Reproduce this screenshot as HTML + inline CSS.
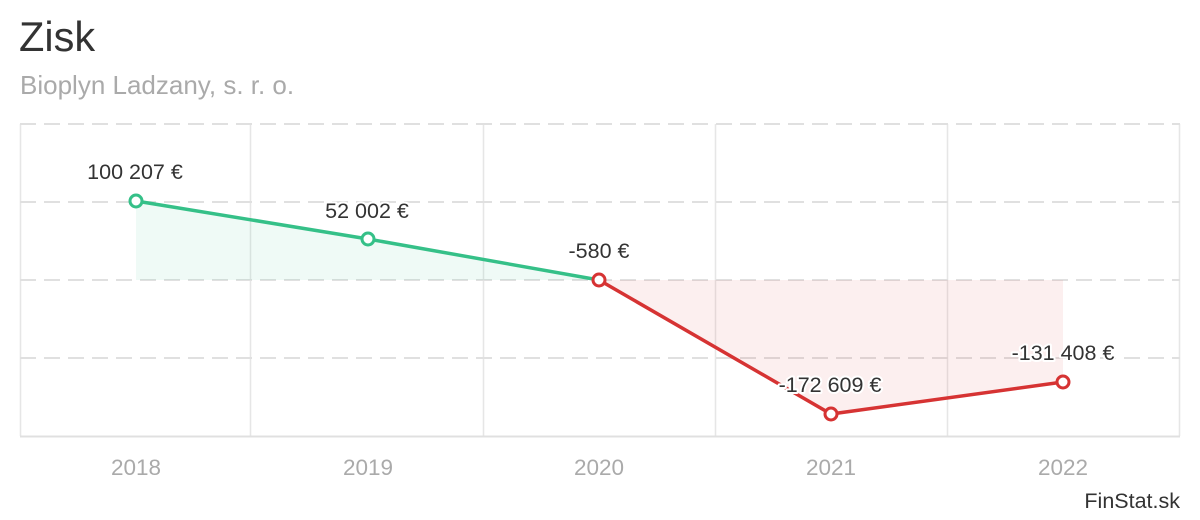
<!DOCTYPE html>
<html><head><meta charset="utf-8"><style>
html,body{margin:0;padding:0;background:#fff;}
svg{display:block;font-family:"Liberation Sans",sans-serif;}
</style></head><body>
<svg width="1200" height="520" viewBox="0 0 1200 520">
<text x="19" y="51" font-size="41.5" fill="#333">Zisk</text>
<text x="20" y="94" font-size="26" fill="#aaa">Bioplyn Ladzany, s. r. o.</text>
<g stroke="#e6e6e6" stroke-width="1.5">
<line x1="20.5" y1="124" x2="20.5" y2="436"/>
<line x1="250.5" y1="124" x2="250.5" y2="436"/>
<line x1="483.5" y1="124" x2="483.5" y2="436"/>
<line x1="715.5" y1="124" x2="715.5" y2="436"/>
<line x1="947.5" y1="124" x2="947.5" y2="436"/>
<line x1="1179.5" y1="124" x2="1179.5" y2="436"/>
</g>
<g stroke="#e0e0e0" stroke-width="2" stroke-dasharray="16,8">
<line x1="20" y1="124" x2="1180" y2="124"/>
<line x1="20" y1="202" x2="1180" y2="202"/>
<line x1="20" y1="280" x2="1180" y2="280"/>
<line x1="20" y1="358" x2="1180" y2="358"/>
</g>
<line x1="20" y1="436.5" x2="1180" y2="436.5" stroke="#e0e0e0" stroke-width="2"/>
<polygon points="136,201 368,239 599,280 136,280" fill="#35c088" fill-opacity="0.08"/>
<polygon points="599,280 831,414 1063,382 1063,280" fill="#d63333" fill-opacity="0.08"/>
<polyline points="136,201 368,239 599,280" fill="none" stroke="#35c088" stroke-width="3.5"/>
<polyline points="599,280 831,414 1063,382" fill="none" stroke="#d63333" stroke-width="3.5"/>
<g stroke-width="3" fill="#fff">
<circle cx="136" cy="201" r="6" stroke="#35c088"/>
<circle cx="368" cy="239" r="6" stroke="#35c088"/>
<circle cx="599" cy="280" r="6" stroke="#d63333"/>
<circle cx="831" cy="414" r="6" stroke="#d63333"/>
<circle cx="1063" cy="382" r="6" stroke="#d63333"/>
</g>
<g font-size="21.5" fill="#333" text-anchor="middle" stroke="#fff" stroke-width="4" paint-order="stroke" stroke-linejoin="round">
<text x="135" y="179">100 207 €</text>
<text x="367" y="218">52 002 €</text>
<text x="599" y="258">-580 €</text>
<text x="830" y="392">-172 609 €</text>
<text x="1063" y="360">-131 408 €</text>
</g>
<g font-size="22.5" fill="#aaa" text-anchor="middle">
<text x="136" y="475">2018</text>
<text x="368" y="475">2019</text>
<text x="599" y="475">2020</text>
<text x="831" y="475">2021</text>
<text x="1063" y="475">2022</text>
</g>
<text x="1180" y="508" font-size="21.5" fill="#333" text-anchor="end">FinStat.sk</text>
</svg>
</body></html>
